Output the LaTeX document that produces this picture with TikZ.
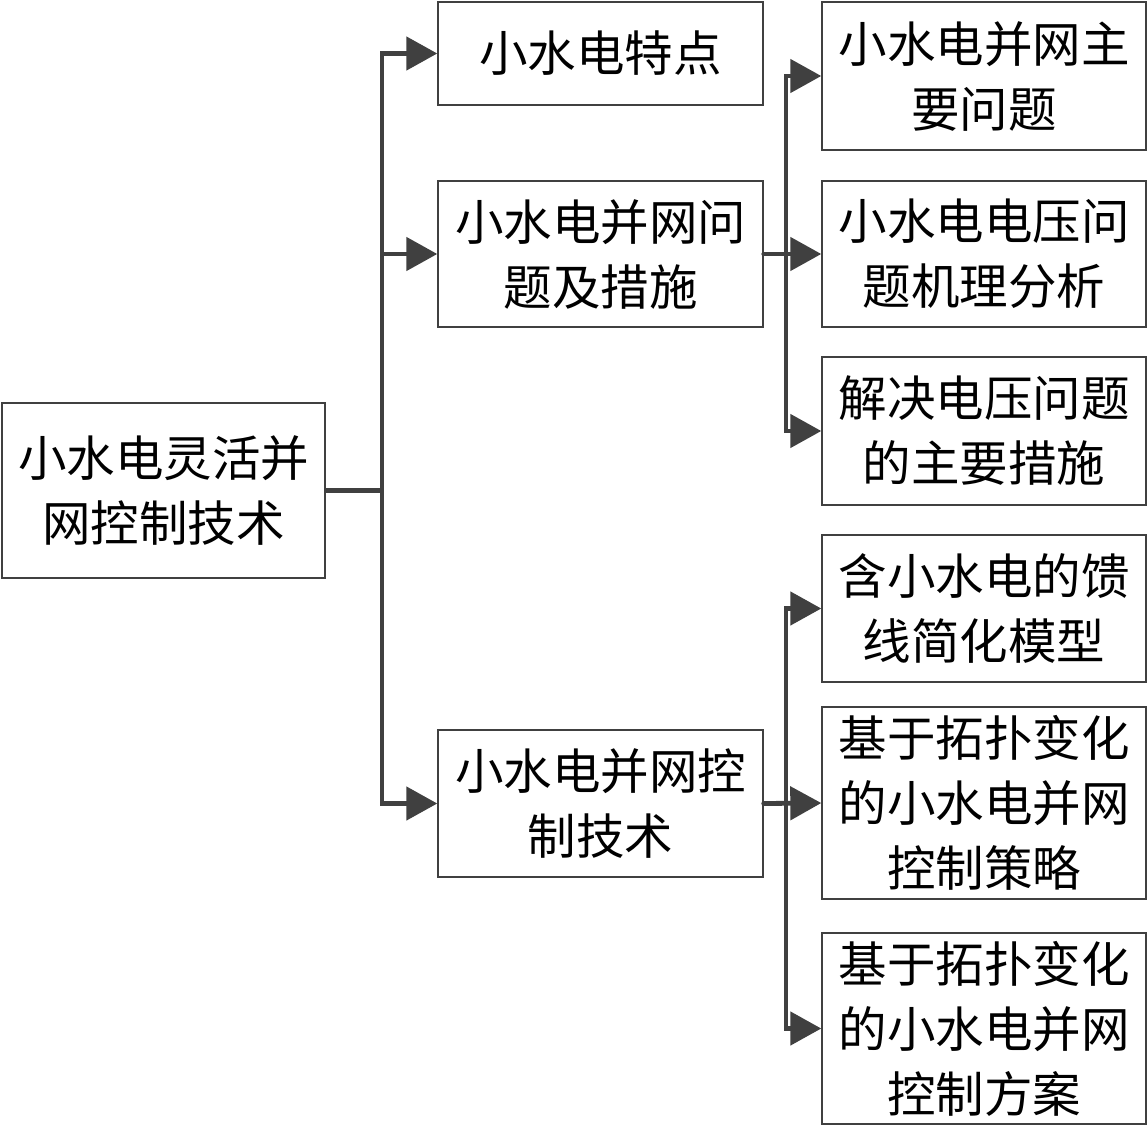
\documentclass[tikz,border=0pt]{standalone}
\usepackage{fontspec}
\setmainfont{Noto Sans CJK SC}
\usetikzlibrary{arrows.meta}
\definecolor{lc}{HTML}{404040}
\tikzset{
  box/.style={draw=lc, line width=1.4pt, align=center, inner sep=0pt,
    font=\fontsize{48.5}{65}\selectfont, text=black},
  conn/.style={draw=lc, line width=4.8pt, line join=miter},
  arr/.style={conn, -{Triangle[length=31pt,width=33pt]}}
}
\begin{document}
\begin{tikzpicture}[x=1pt,y=-1pt]
\useasboundingbox (0,0) rectangle (1148,1126);
\node[box, minimum width=323pt, minimum height=175pt] (root) at (163.5,490.5) {小水电灵活并\\网控制技术};
\node[box, minimum width=325pt, minimum height=103pt] (A) at (600.5,53.5) {小水电特点};
\node[box, minimum width=325pt, minimum height=146pt] (B) at (600.5,254) {小水电并网问\\题及措施};
\node[box, minimum width=325pt, minimum height=147pt] (C) at (600.5,803.5) {小水电并网控\\制技术};
\node[box, minimum width=324pt, minimum height=148pt] (R1) at (984,76) {小水电并网主\\要问题};
\node[box, minimum width=324pt, minimum height=146pt] (R2) at (984,254) {小水电电压问\\题机理分析};
\node[box, minimum width=324pt, minimum height=148pt] (R3) at (984,431) {解决电压问题\\的主要措施};
\node[box, minimum width=324pt, minimum height=147pt] (R4) at (984,608.5) {含小水电的馈\\线简化模型};
\node[box, minimum width=324pt, minimum height=192pt] (R5) at (984,803) {基于拓扑变化\\的小水电并网\\控制策略};
\node[box, minimum width=324pt, minimum height=191pt] (R6) at (984,1028.5) {基于拓扑变化\\的小水电并网\\控制方案};
% root connectors
\coordinate (j1) at (382,490.5);
\draw[conn] (root.east) -- (j1);
\draw[arr] (j1) |- (A.west);
\draw[arr] (j1) |- (B.west);
\draw[arr] (j1) |- (C.west);
% B connectors
\coordinate (j2) at (786,254);
\draw[arr, line cap=round] (B.east) -- (R2.west);
\draw[arr] (j2) |- (R1.west);
\draw[arr] (j2) |- (R3.west);
% C connectors
\coordinate (j3) at (786,803.5);
\draw[arr, line cap=round] (C.east) -- (R5.west);
\draw[arr] (j3) |- (R4.west);
\draw[arr] (j3) |- (R6.west);
\end{tikzpicture}
\end{document}
